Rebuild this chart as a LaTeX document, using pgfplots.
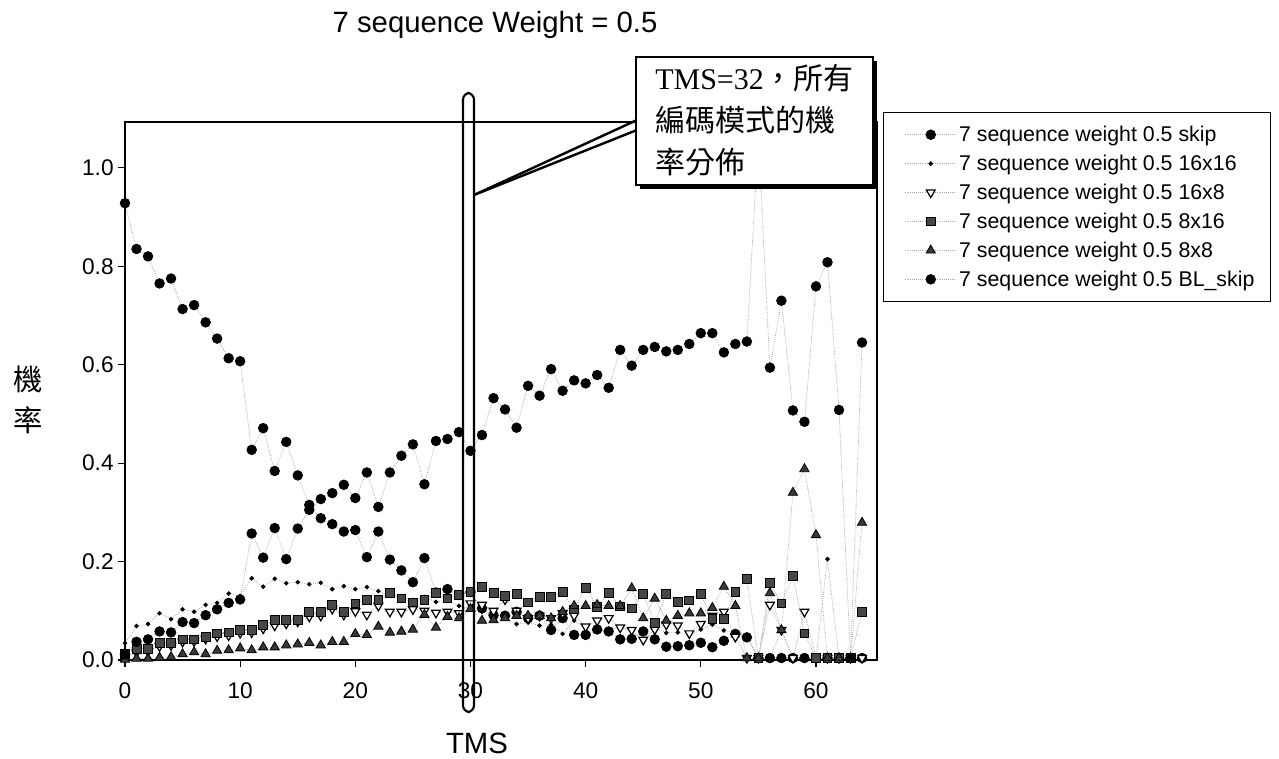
\documentclass[border=0pt]{standalone}
\usepackage{fontspec}
\setmainfont{Liberation Sans}
\newfontfamily\serif{Liberation Serif}
\newfontfamily\cjk{Noto Sans CJK TC}
\usepackage{pgfplots}
\usepackage{pgfplotstable}
\pgfplotsset{compat=1.18}

% x = TMS, one column per coding mode
\pgfplotstableread{
x  skip  s16x16 s16x8 s8x16 s8x8  blskip
0  0.928 0.034 0.005 0.012 0.001 0.012
1  0.835 0.069 0.015 0.022 0.003 0.037
2  0.820 0.073 0.018 0.022 0.003 0.042
3  0.765 0.095 0.028 0.035 0.005 0.058
4  0.775 0.083 0.030 0.035 0.006 0.056
5  0.713 0.103 0.037 0.042 0.012 0.077
6  0.721 0.098 0.038 0.042 0.016 0.075
7  0.686 0.112 0.043 0.047 0.012 0.091
8  0.653 0.116 0.048 0.054 0.019 0.103
9  0.613 0.135 0.050 0.056 0.020 0.116
10 0.607 0.130 0.055 0.061 0.024 0.123
11 0.427 0.166 0.056 0.061 0.020 0.257
12 0.471 0.149 0.064 0.071 0.026 0.208
13 0.384 0.165 0.070 0.081 0.026 0.268
14 0.443 0.156 0.074 0.081 0.030 0.205
15 0.375 0.158 0.078 0.081 0.032 0.267
16 0.315 0.154 0.088 0.097 0.035 0.305
17 0.288 0.157 0.090 0.097 0.030 0.327
18 0.276 0.144 0.104 0.112 0.037 0.339
19 0.261 0.150 0.092 0.097 0.037 0.356
20 0.264 0.144 0.099 0.115 0.053 0.329
21 0.209 0.148 0.092 0.122 0.051 0.381
22 0.261 0.140 0.110 0.122 0.068 0.311
23 0.204 0.132 0.098 0.137 0.056 0.381
24 0.182 0.128 0.098 0.125 0.058 0.415
25 0.158 0.122 0.103 0.117 0.062 0.438
26 0.207 0.128 0.100 0.122 0.092 0.357
27 0.137 0.118 0.096 0.137 0.066 0.445
28 0.144 0.120 0.098 0.125 0.088 0.449
29 0.132 0.110 0.095 0.133 0.085 0.463
30 0.138 0.104 0.115 0.139 0.104 0.425
31 0.105 0.098 0.112 0.148 0.080 0.457
32 0.091 0.090 0.100 0.137 0.081 0.532
33 0.090 0.084 0.123 0.130 0.085 0.509
34 0.098 0.073 0.100 0.135 0.090 0.472
35 0.085 0.076 0.085 0.117 0.090 0.557
36 0.090 0.070 0.090 0.129 0.090 0.537
37 0.061 0.072 0.085 0.129 0.085 0.591
38 0.085 0.053 0.095 0.138 0.098 0.547
39 0.051 0.080 0.090 0.103 0.110 0.568
40 0.051 0.065 0.068 0.147 0.110 0.562
41 0.062 0.060 0.080 0.108 0.112 0.579
42 0.058 0.062 0.085 0.137 0.110 0.553
43 0.042 0.066 0.066 0.109 0.110 0.630
44 0.043 0.060 0.061 0.105 0.146 0.598
45 0.058 0.058 0.041 0.135 0.085 0.630
46 0.042 0.068 0.062 0.075 0.125 0.636
47 0.027 0.055 0.072 0.135 0.080 0.627
48 0.028 0.056 0.070 0.118 0.090 0.630
49 0.030 0.050 0.054 0.121 0.095 0.642
50 0.035 0.062 0.073 0.134 0.095 0.664
51 0.026 0.072 0.090 0.083 0.106 0.664
52 0.039 0.060 0.098 0.083 0.149 0.625
53 0.053 0.056 0.047 0.139 0.110 0.642
54 0.046 0.050 0.004 0.164 0.004 0.647
55 0.004 0.004 0.004 0.004 0.004 1.060
56 0.004 0.004 0.112 0.156 0.136 0.594
57 0.004 0.061 0.061 0.115 0.061 0.730
58 0.004 0.004 0.004 0.171 0.340 0.507
59 0.004 0.004 0.098 0.054 0.388 0.484
60 0.004 0.004 0.004 0.004 0.254 0.759
61 0.004 0.205 0.004 0.004 0.004 0.808
62 0.004 0.004 0.004 0.004 0.004 0.508
63 0.004 0.004 0.004 0.004 0.004 0.004
64 0.004 0.004 0.004 0.097 0.279 0.645
}\data

\begin{document}
\begin{tikzpicture}[x=0.75pt,y=0.75pt]
\path[use as bounding box] (0,0) rectangle (1279,758);
\begin{axis}[
  at={(93.75pt,73.5pt)}, anchor=south west,
  width=564pt, height=403.5pt, scale only axis,
  xmin=0, xmax=65.3, ymin=0, ymax=1.093,
  xtick={0,10,20,30,40,50,60},
  ytick={0,0.2,0.4,0.6,0.8,1.0},
  tick pos=left, tick align=outside,
  major tick length=5pt,
  every tick/.style={black, line width=0.8pt},
  axis line style={line width=1pt},
  clip=false,
  tick label style={font=\fontsize{17}{20}\selectfont},
  xticklabel style={yshift=-8.5pt},
  /pgf/number format/assume math mode=true,
  yticklabel style={/pgf/number format/.cd, fixed, fixed zerofill, precision=1},
  every axis plot/.append style={draw=gray!70, densely dotted, line width=0.6pt},
  legend cell align=left,
  legend style={at={(1.008,1.0186)}, anchor=north west,
    font=\fontsize{16}{19}\selectfont, draw=black, line width=1pt,
    inner xsep=10pt, inner ysep=8pt, row sep=4.6pt},
  legend image code/.code={
    \path (0pt,0pt);
    \draw[mark repeat=2, mark phase=2, #1]
      plot coordinates {(6pt,0pt) (25pt,0pt) (44pt,0pt)};},
]
\addplot[mark=*, mark size=3.6pt, mark options={solid, fill=black, draw=black}]
  table[x=x, y=skip] {\data};
\addlegendentry{7 sequence weight 0.5 skip}
\addplot[mark=*, mark size=1.4pt, mark options={solid, fill=black, draw=black}]
  table[x=x, y=s16x16] {\data};
\addlegendentry{7 sequence weight 0.5 16x16}
\addplot[mark=triangle*, mark size=3.8pt,
  mark options={solid, rotate=180, fill=white, draw=black, line width=0.9pt}]
  table[x=x, y=s16x8] {\data};
\addlegendentry{7 sequence weight 0.5 16x8}
\addplot[mark=square*, mark size=3.3pt,
  mark options={solid, fill=gray!55!black, draw=black, line width=0.6pt}]
  table[x=x, y=s8x16] {\data};
\addlegendentry{7 sequence weight 0.5 8x16}
\addplot[mark=triangle*, mark size=4pt,
  mark options={solid, fill=gray!45!black, draw=black, line width=0.6pt}]
  table[x=x, y=s8x8] {\data};
\addlegendentry{7 sequence weight 0.5 8x8}
\addplot[mark=*, mark size=3.6pt, mark options={solid, fill=black, draw=black}]
  table[x=x, y=blskip] {\data};
\addlegendentry{7 sequence weight 0.5 BL\_skip}
\end{axis}

% titles
\node[font=\fontsize{22}{26}\selectfont] at (495,733) {7 sequence Weight = 0.5};
\node[font=\fontsize{22}{26}\selectfont] at (477,15) {TMS};
\node[font=\cjk\fontsize{22}{31}\selectfont, align=center] at (28,358) {機\\率};

% highlighted column
\draw[line width=1.6pt, rounded corners=5pt] (463,46) rectangle (474,665);

% callout
\draw[line width=1.8pt] (637,638) -- (474,563);
\draw[line width=1.8pt] (637,628) -- (474,563);
\fill[black] (640,569) rectangle (877,697);
\draw[fill=white, line width=1.2pt] (636,573) rectangle (873,701);
\node[anchor=north west, align=left, inner sep=0pt,
  font=\fontsize{22.5}{31.5}\selectfont] at (655,694)
  {\serif TMS=32\cjk ，所有\\\cjk 編碼模式的機\\\cjk 率分佈};
\end{tikzpicture}
\end{document}
